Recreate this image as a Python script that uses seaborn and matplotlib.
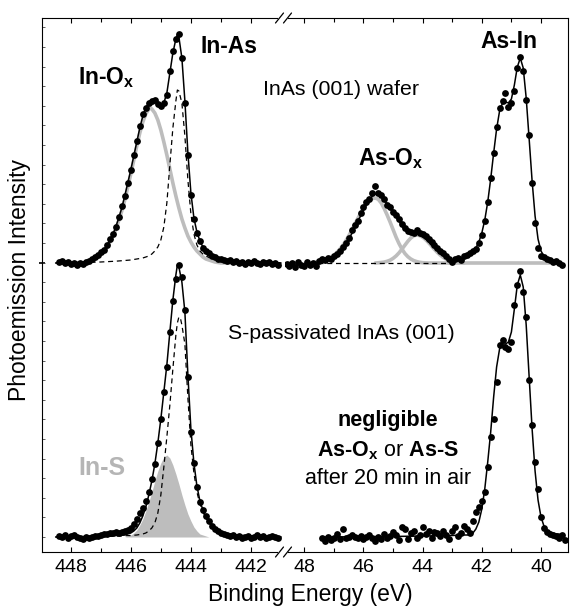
import numpy as np
import pandas as pd
import matplotlib
matplotlib.use("Agg")
import matplotlib.pyplot as plt
from matplotlib.lines import Line2D
from matplotlib.ticker import MultipleLocator, FixedLocator
import seaborn as sns

sns.set_theme(style="white")
plt.rcParams['font.family'] = ['Liberation Sans', 'DejaVu Sans']
plt.rcParams['mathtext.fontset'] = 'custom'
plt.rcParams['mathtext.rm'] = 'Liberation Sans'
plt.rcParams['mathtext.bf'] = 'Liberation Sans:bold'
plt.rcParams['mathtext.it'] = 'Liberation Sans:italic'
plt.rcParams['text.color'] = 'black'
plt.rcParams['axes.labelcolor'] = 'black'
plt.rcParams['xtick.color'] = 'black'
plt.rcParams['ytick.color'] = 'black'

# ---------------- data (binding energy in eV, intensity in arb. units) ----------------
OFFSET_TOP = 274  # vertical offset of the upper (wafer) spectrum

# In 3d, InAs(001) wafer : measured points (448.4 -> 441.1, step 0.1)
tl_be = np.round(np.arange(448.4, 441.05, -0.1), 1)
tl_int = [1, 2, 0, 1, -1, 0, -2, 0, -1, 1,
          2, 4, 6, 8, 11, 13, 18, 24, 29, 36,
          46, 57, 67, 80, 93, 108, 122, 137, 149, 155,
          160, 162, 163, 159, 157, 160, 168, 192, 212, 224,
          229, 205, 160, 108, 68, 44, 30, 22, 15, 12,
          10, 7, 6, 4, 4, 3, 2, 3, 1, 2,
          0, 1, -1, 1, 0, 2, 0, -1, 1, 0,
          1, -1, 0, -2]

tl_fit_be = [448.5, 448.0, 447.6, 447.5, 447.4, 447.3, 447.2, 447.1, 447.0, 446.9, 446.8, 446.7,
             446.6, 446.5, 446.4, 446.3, 446.2, 446.1, 446.0, 445.9, 445.8, 445.7, 445.6, 445.5,
             445.4, 445.3, 445.2, 445.1, 445.0, 444.9, 444.8, 444.7, 444.6, 444.5, 444.45, 444.4,
             444.3, 444.2, 444.1, 444.0, 443.9, 443.8, 443.7, 443.6, 443.5, 443.4, 443.3, 443.2,
             443.0, 442.8, 442.5, 442.0, 441.0]
tl_fit = [0, 0.3, 1, 1.5, 2.5, 3.5, 5, 7, 9.5, 12.5, 17, 22,
          28, 36, 45, 55, 67, 80, 93, 107, 121, 135, 147, 155,
          160, 162, 162, 160, 157, 160, 170, 190, 210, 224, 228, 226,
          205, 162, 110, 70, 45, 31, 22, 16, 12, 9, 7, 5,
          3, 2, 1, 0.5, 0]

inox_be = [447.6, 447.5, 447.4, 447.3, 447.2, 447.1, 447.0, 446.9, 446.8, 446.7, 446.6, 446.5,
           446.4, 446.3, 446.2, 446.1, 446.0, 445.9, 445.8, 445.7, 445.6, 445.5, 445.4, 445.35,
           445.3, 445.2, 445.1, 445.0, 444.9, 444.8, 444.7, 444.6, 444.5, 444.4, 444.3, 444.2,
           444.1, 444.0, 443.9, 443.8, 443.7, 443.6, 443.5, 443.4, 443.3, 443.2, 443.0, 442.6]
inox_int = [0, 1, 2, 3, 4.5, 6.5, 8.5, 11.5, 15.5, 20.5, 26.5, 33.5,
            42.5, 52, 63, 76, 89, 103, 117, 130, 141, 149, 154, 155,
            154, 150, 143, 133, 121, 108, 94, 80, 67, 55, 44, 35,
            27, 21, 16, 12, 9, 6, 4, 3, 2, 1, 0, 0]

inas_top_be = [448.5, 448.0, 447.5, 447.0, 446.5, 446.0, 445.8, 445.6, 445.4, 445.3, 445.2, 445.1,
               445.0, 444.9, 444.8, 444.7, 444.6, 444.5, 444.45, 444.4, 444.3, 444.2, 444.1, 444.0,
               443.9, 443.8, 443.7, 443.6, 443.5, 443.4, 443.3, 443.2, 443.0, 442.5, 442.0, 441.5, 441.0]
inas_top_int = [0, 0.3, 0.6, 1, 1.8, 3, 4, 5, 7, 9, 12, 16,
                23, 36, 60, 98, 135, 162, 173, 172, 160, 127, 83, 49,
                29, 18, 12, 9, 7, 5.5, 4.5, 3.5, 2.5, 1.3, 0.7, 0.4, 0.2]

# As 3d, InAs(001) wafer : measured points (48.6 -> 39.3, step 0.1)
tr_be = np.round(np.arange(48.6, 39.25, -0.1), 1)
tr_int = [-1, -3, 0, -4, 1, -2, -3, 1, -2, 0,
          -3, 2, 4, 3, 5, 4, 7, 9, 12, 16,
          20, 25, 33, 38, 42, 50, 56, 61, 64, 70,
          77, 70, 68, 64, 58, 56, 51, 48, 44, 39,
          35, 32, 31, 30, 33, 30, 29, 27, 24, 21,
          18, 15, 12, 10, 7, 4, 1, 4, 5, 3,
          7, 8, 10, 12, 14, 20, 28, 42, 61, 85,
          110, 136, 155, 162, 170, 156, 160, 172, 195, 206,
          192, 163, 128, 80, 40, 15, 7, 6, 4, 3,
          1, 2, 0, -2]

tr_fit_be = [47.6, 47.4, 47.2, 47.0, 46.8, 46.6, 46.4, 46.2, 46.0, 45.8,
             45.7, 45.6, 45.5, 45.4, 45.3, 45.2, 45.1, 45.0, 44.9, 44.8,
             44.7, 44.6, 44.5, 44.4, 44.3, 44.2, 44.1, 44.0, 43.9, 43.8,
             43.7, 43.6, 43.5, 43.4, 43.3, 43.2, 43.1, 43.0, 42.9, 42.8,
             42.7, 42.6, 42.5, 42.4, 42.3, 42.2, 42.1, 42.0, 41.9, 41.8,
             41.7, 41.6, 41.5, 41.4, 41.3, 41.2, 41.1, 41.0, 40.9, 40.8,
             40.7, 40.6, 40.5, 40.4, 40.3, 40.2, 40.1, 40.0, 39.9, 39.8,
             39.7, 39.6, 39.5, 39.35]
tr_fit = [0, 1, 3, 6, 11, 18, 29, 41, 53, 63,
          67, 69, 69, 67, 63, 59, 55, 51, 47, 42,
          37, 33, 31, 30, 30, 29, 28, 26, 24, 21,
          18, 15, 12, 9, 7, 5, 4, 3, 3, 3,
          4, 5, 6, 8, 11, 15, 21, 30, 43, 61,
          84, 110, 134, 152, 160, 161, 160, 164, 178, 196,
          205, 195, 165, 124, 82, 47, 24, 12, 7, 5,
          3, 2, 1, 1]

asox1_be = [47.6, 47.5, 47.4, 47.3, 47.2, 47.1, 47.0, 46.9, 46.8, 46.7,
            46.6, 46.5, 46.4, 46.3, 46.2, 46.1, 46.0, 45.9, 45.8, 45.7,
            45.6, 45.5, 45.4, 45.3, 45.2, 45.1, 45.0, 44.9, 44.8, 44.7,
            44.6, 44.5, 44.4, 44.3, 44.2, 44.1, 44.0, 43.8, 39.35]
asox1_int = [0.9, 1.3, 2, 2.9, 4.1, 5.7, 7.8, 10.5, 13.7, 17.5,
             22, 27, 32.5, 38.5, 44, 49.5, 54.5, 59, 62.5, 64.5,
             65, 63.7, 60, 54.5, 48, 41, 33.5, 26, 19.5, 14,
             9.5, 6.3, 4, 2.4, 1.4, 0.7, 0.3, 0, 0]

asox2_be = [45.6, 45.4, 45.3, 45.2, 45.1, 45.0, 44.9, 44.8, 44.7, 44.6,
            44.5, 44.4, 44.3, 44.2, 44.1, 44.0, 43.9, 43.8, 43.7, 43.6,
            43.5, 43.4, 43.3, 43.2, 43.1, 43.0, 42.9, 42.8, 42.6]
asox2_int = [0, 0.5, 0.9, 1.7, 2.8, 4.6, 7, 10.1, 13.8, 17.8,
             21.7, 25, 27.2, 28, 27.4, 25.8, 23.4, 20.3, 17, 13.6,
             10.5, 7.8, 5.5, 3.8, 2.5, 1.6, 1.0, 0.5, 0]

tr_base_be = [47.55, 43.1]
tr_base_int = [0, 0]

# In 3d, S-passivated : measured points (448.4 -> 441.1, step 0.1)
bl_be = np.round(np.arange(448.4, 441.05, -0.1), 1)
bl_int = [1, 0, 2, -1, 1, 2, 0, -1, -2, 0,
          -1, 0, 1, 1, 2, 3, 3, 4, 4, 5,
          4, 5, 6, 7, 9, 13, 18, 24, 29, 36,
          45, 58, 73, 94, 118, 145, 170, 205, 236, 258,
          272, 260, 227, 160, 105, 74, 50, 35, 27, 21,
          16, 11, 8, 6, 4, 3, 2, 1, 2, 0,
          1, -1, 0, 1, -1, 0, 2, 0, 1, -1,
          0, 1, 0, -1]

bl_fit_be = [448.5, 447.5, 447.0, 446.5, 446.2, 446.1, 446.0, 445.9, 445.8, 445.7, 445.6,
             445.5, 445.4, 445.3, 445.2, 445.1, 445.0, 444.9, 444.8, 444.7, 444.6, 444.5,
             444.45, 444.4, 444.3, 444.2, 444.1, 444.0, 443.9, 443.8, 443.7, 443.6, 443.5,
             443.4, 443.3, 443.2, 443.1, 443.0, 442.8, 442.5, 442.0, 441.5, 441.0]
bl_fit = [0, 0.5, 0.8, 1.5, 2, 3, 4, 6, 9, 14, 21,
          30, 42, 56, 73, 94, 118, 145, 172, 205, 237, 262,
          272, 270, 255, 225, 162, 108, 74, 51, 36, 27, 20,
          15, 11, 8, 6, 5, 3.5, 2, 1, 0.5, 0]

inas_bot_be = [448.5, 447.5, 446.5, 446.0, 445.8, 445.6, 445.5, 445.4, 445.3, 445.2,
               445.1, 445.0, 444.9, 444.8, 444.7, 444.6, 444.5, 444.45, 444.4, 444.35,
               444.3, 444.2, 444.1, 444.0, 443.9, 443.8, 443.7, 443.6, 443.5, 443.4,
               443.3, 443.2, 443.1, 443.0, 442.8, 442.5, 442.0, 441.5, 441.0]
inas_bot_int = [0, 0.3, 0.8, 1.5, 2, 3, 4, 6, 9, 14,
                24, 42, 70, 100, 132, 168, 202, 214, 220, 219,
                212, 193, 139, 92, 64, 45, 33, 25, 19, 15,
                11, 8, 6, 5, 3.5, 2, 1, 0.5, 0]

ins_be = [446.2, 446.1, 446.0, 445.9, 445.8, 445.7, 445.6, 445.5, 445.4, 445.3,
          445.2, 445.1, 445.0, 444.9, 444.8, 444.7, 444.6, 444.5, 444.4, 444.3,
          444.2, 444.1, 444.0, 443.9, 443.8, 443.7, 443.6, 443.5, 443.4]
ins_int = [0, 1, 2, 4, 7, 12, 18, 26, 35, 45,
           56, 66, 74, 80, 82, 79, 72, 63, 53, 42,
           32, 23, 16, 10, 6, 3, 2, 1, 0]

# As 3d, S-passivated : measured points (47.4 -> 39.2, step 0.1)
br_be = np.round(np.arange(47.4, 39.15, -0.1), 1)
br_int = [-1, -4, 0, -3, -1, 3, -2, 8, -1, 0,
          2, 0, -1, 1, -2, 0, 2, -1, -4, 0,
          -2, 3, -1, 1, 5, 2, -3, 10, 8, -2,
          4, 6, -1, 2, 10, 3, 6, -1, 5, 4,
          1, 6, 2, -2, 6, 10, 1, 4, 11, 8,
          4, 16, 25, 30, 36, 45, 70, 100, 118, 155,
          192, 197, 190, 188, 195, 232, 252, 266, 245, 220,
          157, 112, 75, 48, 20, 9, 5, 3, 2, 1,
          -1, 2, -3]

br_fit_be = [47.4, 46.0, 45.0, 44.0, 43.0, 42.6, 42.5, 42.4, 42.3, 42.2,
             42.1, 42.0, 41.9, 41.8, 41.7, 41.6, 41.5, 41.4, 41.3, 41.2,
             41.1, 41.0, 40.9, 40.8, 40.7, 40.6, 40.5, 40.4, 40.3, 40.2,
             40.1, 40.0, 39.9, 39.8, 39.7, 39.6, 39.5, 39.4, 39.25]
br_fit = [0, 0.3, 0.5, 1, 1.5, 2, 2, 2, 4, 8,
          15, 28, 48, 75, 105, 140, 170, 188, 193, 193,
          195, 205, 228, 252, 262, 250, 212, 160, 108, 66,
          37, 20, 11, 7, 5, 4, 3, 3, 2]

XTICKS_LEFT = [448, 446, 444, 442]
XTICKS_RIGHT = [48, 46, 44, 42, 40]

# ---------------- figure ----------------
W, H = 570, 609
fig = plt.figure(figsize=(W / 100, H / 100), dpi=100)
gs = fig.add_gridspec(1, 2, left=42 / W, right=568 / W, bottom=1 - 552 / H, top=1 - 18 / H,
                      wspace=0, width_ratios=[243, 283])
axL = fig.add_subplot(gs[0])
axR = fig.add_subplot(gs[1])

GRAY = '#bdbdbd'


def df(x, y, off=0.0):
    return pd.DataFrame({'be': np.asarray(x, float), 'I': np.asarray(y, float) + off})


def dots(ax, x, y, off=0.0):
    sns.scatterplot(data=df(x, y, off), x='be', y='I', ax=ax, color='black', s=24,
                    linewidth=0, zorder=5, legend=False)


def curve(ax, x, y, off=0.0, **kw):
    sns.lineplot(data=df(x, y, off), x='be', y='I', ax=ax, sort=False, estimator=None,
                 legend=False, **kw)


# upper spectra
curve(axL, inox_be, inox_int, OFFSET_TOP, color=GRAY, lw=2.6, zorder=1)
curve(axL, inas_top_be, inas_top_int, OFFSET_TOP, color='black', lw=0.9, ls=(0, (4, 3)), zorder=2)
curve(axL, tl_fit_be, tl_fit, OFFSET_TOP, color='black', lw=1.1, zorder=3)
dots(axL, tl_be, tl_int, OFFSET_TOP)

curve(axR, asox1_be, asox1_int, OFFSET_TOP, color=GRAY, lw=2.6, zorder=1)
curve(axR, asox2_be, asox2_int, OFFSET_TOP, color=GRAY, lw=2.6, zorder=1)
curve(axR, tr_base_be, tr_base_int, OFFSET_TOP, color='black', lw=0.9, ls=(0, (4, 3)), zorder=2)
curve(axR, tr_fit_be, tr_fit, OFFSET_TOP, color='black', lw=1.1, zorder=3)
dots(axR, tr_be, tr_int, OFFSET_TOP)

# lower spectra
axL.fill_between(ins_be, 0, ins_int, color=GRAY, lw=0, zorder=1)
curve(axL, inas_bot_be, inas_bot_int, 0, color='black', lw=0.9, ls=(0, (4, 3)), zorder=2)
curve(axL, bl_fit_be, bl_fit, 0, color='black', lw=1.1, zorder=3)
dots(axL, bl_be, bl_int)

curve(axR, br_fit_be, br_fit, 0, color='black', lw=1.1, zorder=3)
dots(axR, br_be, br_int)

# ---------------- axes styling ----------------
YLIM = (-15, 519)
axL.set_xlim(448.953, 440.87)
axR.set_xlim(48.652, 39.087)
for ax in (axL, axR):
    ax.set_ylim(*YLIM)
    ax.set_xlabel('')
    ax.set_ylabel('')
    for s in ax.spines.values():
        s.set_color('black')
        s.set_linewidth(0.8)
    ax.tick_params(axis='x', which='both', direction='in', top=True, bottom=True,
                   color='black', width=0.8, labelsize=14, labelcolor='black', pad=5)
    ax.tick_params(axis='x', which='major', length=3.5)
    ax.tick_params(axis='x', which='minor', length=3.0)

axL.xaxis.set_major_locator(FixedLocator(XTICKS_LEFT))
axL.xaxis.set_minor_locator(FixedLocator([447, 445, 443]))
axR.xaxis.set_major_locator(FixedLocator(XTICKS_RIGHT))
axR.xaxis.set_minor_locator(FixedLocator([47, 45, 43, 41]))
axL.set_xticklabels([str(v) for v in XTICKS_LEFT])
axR.set_xticklabels([str(v) for v in XTICKS_RIGHT])

axL.spines['right'].set_visible(False)
axR.spines['left'].set_visible(False)
axL.spines['top'].set_bounds(448.953, 441.12)
axL.spines['bottom'].set_bounds(448.953, 441.12)
axR.spines['top'].set_bounds(48.55, 39.087)
axR.spines['bottom'].set_bounds(48.55, 39.087)

# y axis: only small inward ticks on the left
axL.yaxis.set_major_locator(FixedLocator([OFFSET_TOP]))
axL.yaxis.set_minor_locator(MultipleLocator(19.6))
axL.tick_params(axis='y', which='major', direction='inout', length=5, width=1.2, left=True,
                right=False, labelleft=False, color='black')
axL.tick_params(axis='y', which='minor', direction='in', length=2, width=0.6, left=True,
                right=False, color='#444444')
axR.tick_params(axis='y', which='both', left=False, right=False, labelleft=False)
axR.yaxis.set_major_locator(FixedLocator([]))
axR.yaxis.set_minor_locator(FixedLocator([]))


def px(x, y):
    return x / W, 1 - y / H


# break marks
for yb in (18, 552):
    for xb in (279.5, 287.5):
        (x0, y0), (x1, y1) = px(xb - 4, yb + 5), px(xb + 4, yb - 5)
        fig.add_artist(Line2D([x0, x1], [y0, y1], color='black', lw=0.9,
                              transform=fig.transFigure))

# axis labels
fig.text(*px(310, 594), 'Binding Energy (eV)', ha='center', va='center', fontsize=16.5,
         color='black')
fig.text(*px(20, 280), 'Photoemission Intensity', ha='center', va='center', rotation=90,
         fontsize=16.5, color='black')

# annotations
fig.text(*px(78, 84), r'In-$\mathbf{O}_\mathbf{x}$', ha='left', va='baseline',
         fontsize=16.5, fontweight='bold', color='black')
fig.text(*px(200, 53), 'In-As', ha='left', va='baseline', fontsize=16.5, fontweight='bold',
         color='black')
fig.text(*px(480, 48), 'As-In', ha='left', va='baseline', fontsize=16.5, fontweight='bold',
         color='black')
fig.text(*px(358, 165), r'As-$\mathbf{O}_\mathbf{x}$', ha='left', va='baseline',
         fontsize=16.5, fontweight='bold', color='black')
fig.text(*px(263, 95), 'InAs (001) wafer', ha='left', va='baseline', fontsize=15.3,
         color='black')
fig.text(*px(228, 339), 'S-passivated InAs (001)', ha='left', va='baseline', fontsize=15.3,
         color='black')
fig.text(*px(78, 475), 'In-S', ha='left', va='baseline', fontsize=18, fontweight='bold',
         color='#b5b5b5')
fig.text(*px(388, 426), 'negligible', ha='center', va='baseline', fontsize=15.5,
         fontweight='bold', color='black')
fig.text(*px(388, 456), r'As-$\mathbf{O}_\mathbf{x}$ $\mathrm{or}$ As-S', ha='center',
         va='baseline', fontsize=15.5, fontweight='bold', color='black')
fig.text(*px(388, 484), 'after 20 min in air', ha='center', va='baseline', fontsize=15.5,
         color='black')

fig.savefig('out.png', dpi=100, facecolor='white')
